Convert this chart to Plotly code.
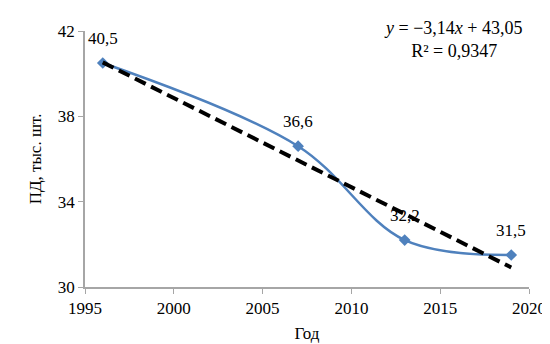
import numpy as np
import plotly.graph_objects as go

years = [1996, 2007, 2013, 2019]
values = [40.5, 36.6, 32.2, 31.5]
labels = ["40,5", "36,6", "32,2", "31,5"]
x_ticks = [1995, 2000, 2005, 2010, 2015, 2020]
y_ticks = [30, 34, 38, 42]

slope, intercept = np.polyfit(years, values, 1)
trend_x = [years[0], years[-1]]
trend_y = [slope * xv + intercept for xv in trend_x]

font = "Liberation Serif"

fig = go.Figure()
fig.add_trace(go.Scatter(
    x=years, y=values, mode="lines+markers",
    line=dict(color="#4F81BD", width=2.5, shape="spline", smoothing=1.0),
    marker=dict(symbol="diamond", size=9, color="#4F81BD"),
    cliponaxis=False, showlegend=False,
))
fig.add_trace(go.Scatter(
    x=trend_x, y=trend_y, mode="lines",
    line=dict(color="black", width=4, dash="12px,6px"),
    showlegend=False, hoverinfo="skip",
))

for xv, yv, lab in zip(years, values, labels):
    fig.add_annotation(x=xv, y=yv, text=lab, showarrow=False,
                       xanchor="center", yanchor="middle", yshift=25,
                       font=dict(family=font, size=17, color="black"))

fig.add_annotation(
    xref="paper", yref="paper", x=0.828, y=0.965, xanchor="center", yanchor="middle",
    text="<i>y</i> = −3,14<i>x</i> + 43,05<br>R² = 0,9347",
    showarrow=False, align="center",
    font=dict(family=font, size=18, color="black"),
)

fig.update_layout(
    width=550, height=344,
    margin=dict(l=77, r=20, t=23, b=57),
    paper_bgcolor="white", plot_bgcolor="white",
    separators=", ",
    font=dict(family=font, size=17, color="black"),
    xaxis=dict(range=[1995, 2020], tickvals=x_ticks, showgrid=False, zeroline=False,
               showline=True, linecolor="#A6A6A6", linewidth=1.5,
               ticks="outside", tickcolor="#A6A6A6", ticklen=5,
               title=dict(text="Год", font=dict(family=font, size=17), standoff=10)),
    yaxis=dict(range=[30, 42], tickvals=y_ticks, showgrid=False, zeroline=False,
               showline=True, linecolor="#A6A6A6", linewidth=1.5,
               ticks="outside", tickcolor="#A6A6A6", ticklen=5,
               title=dict(text="ПД, тыс. шт.", font=dict(family=font, size=17), standoff=12)),
)

fig.write_html("out.html")
